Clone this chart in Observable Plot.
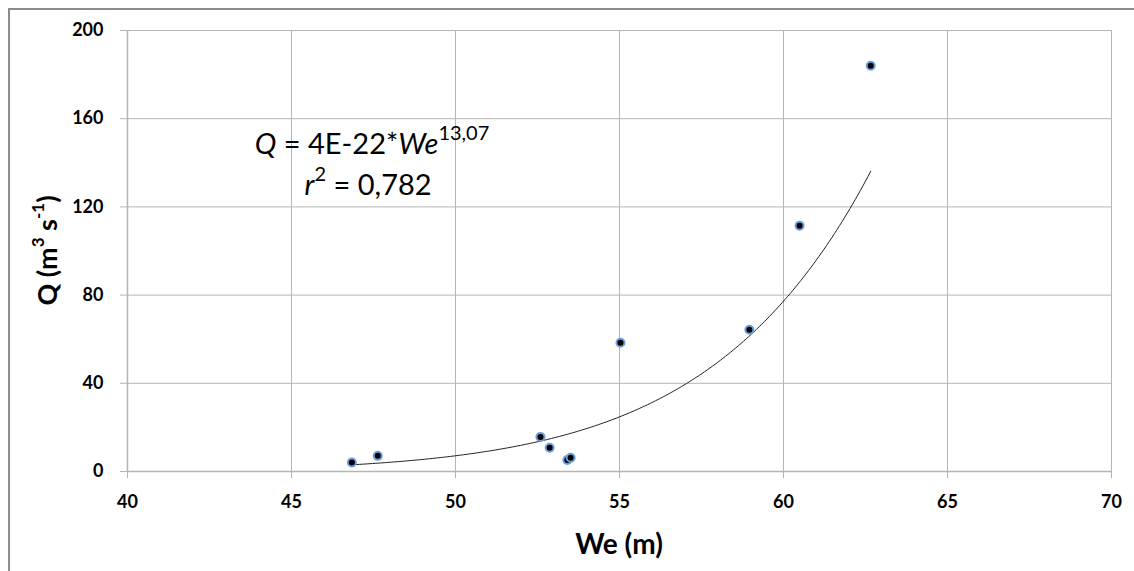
<!DOCTYPE html>
<html>
<head>
<meta charset="utf-8">
<script src="https://cdn.jsdelivr.net/npm/d3@7"></script>
<script src="https://cdn.jsdelivr.net/npm/@observablehq/plot@0.6"></script>
<style>
  html, body { margin: 0; padding: 0; background: #fff; }
  #wrap { position: relative; width: 1134px; height: 571px; overflow: hidden; }
  #frame { position: absolute; left: 8px; top: 8px; width: 1140px; height: 580px;
           border-left: 2px solid #8c8c8c; border-top: 2px solid #8c8c8c; box-sizing: border-box; }
  #chart { position: absolute; left: 0; top: 0; }
</style>
</head>
<body>
<div id="wrap"><div id="frame"></div><div id="chart"></div></div>
<script>
// Data
const we = [46.84, 47.63, 52.59, 52.87, 53.41, 53.51, 55.03, 58.96, 60.49, 62.66];
const q  = [4.1, 7.1, 15.7, 10.8, 5.2, 6.2, 58.4, 64.3, 111.5, 184.0];
const xTicks = [40, 45, 50, 55, 60, 65, 70];
const yTicks = [0, 40, 80, 120, 160, 200];
// Power trendline stated in the chart: Q = a * We^b
const trendA = 4.44e-22;
const trendB = 13.07;
const eqLine1 = {x: 47.47, y: 149.4};
const eqLine2 = {x: 47.35, y: 130.4};

const points = we.map((w, i) => ({we: w, q: q[i]}));
const xMin = d3.min(we), xMax = d3.max(we);
const trend = d3.range(0, 201).map(i => {
  const x = xMin + (xMax - xMin) * i / 200;
  return {we: x, q: trendA * Math.pow(x, trendB)};
});

const font = "Lato, 'Open Sans', sans-serif";
const plot = Plot.plot({
  width: 1134,
  height: 571,
  marginLeft: 127,
  marginRight: 23,
  marginTop: 30,
  marginBottom: 100,
  style: {fontFamily: font, fontSize: "18px", fontWeight: "bold", color: "black", background: "transparent"},
  x: {domain: [40, 70], ticks: xTicks},
  y: {domain: [0, 200], ticks: yTicks},
  marks: [
    Plot.gridX(xTicks, {stroke: "#b5b5b5", strokeOpacity: 1, strokeWidth: 1}),
    Plot.gridY(yTicks, {stroke: "#b5b5b5", strokeOpacity: 1, strokeWidth: 1}),
    Plot.ruleY([0], {stroke: "#b5b5b5", strokeWidth: 1.5}),
    Plot.ruleX([40], {stroke: "#b5b5b5", strokeWidth: 1.5}),
    Plot.axisX(xTicks, {tickSize: 7, tickPadding: 17, stroke: "#b5b5b5", fill: "black", label: null, fontSize: 18, fontWeight: "bold"}),
    Plot.axisY(yTicks, {tickSize: 7, tickPadding: 17, stroke: "#b5b5b5", fill: "black", label: null, fontSize: 18, fontWeight: "bold"}),
    Plot.line(trend, {x: "we", y: "q", stroke: "#222", strokeWidth: 1}),
    Plot.dot(points, {x: "we", y: "q", r: 4, fill: "black", stroke: "#6a9fdc", strokeWidth: 2})
  ]
});
document.getElementById("chart").appendChild(plot);

const svg = d3.select(plot);
const sx = plot.scale("x"), sy = plot.scale("y");

// X axis title
svg.append("text")
  .attr("x", (sx.apply(40) + sx.apply(70)) / 2)
  .attr("y", 543)
  .attr("text-anchor", "middle").attr("dominant-baseline", "central")
  .attr("font-family", font).attr("font-weight", "bold").attr("font-size", 28)
  .attr("fill", "black")
  .text("We (m)");

// Y axis title with superscripts
const yl = svg.append("text")
  .attr("transform", `translate(46,${(sy.apply(0) + sy.apply(200)) / 2}) rotate(-90)`)
  .attr("text-anchor", "middle").attr("dominant-baseline", "central")
  .attr("font-family", font).attr("font-weight", "bold").attr("font-size", 27)
  .attr("fill", "black");
yl.append("tspan").text("Q (m");
yl.append("tspan").attr("font-size", 17).attr("dy", -9).text("3");
yl.append("tspan").attr("dy", 9).text(" s");
yl.append("tspan").attr("font-size", 17).attr("dy", -9).text("-1");
yl.append("tspan").attr("dy", 9).text(")");

// Equation
const e1 = svg.append("text")
  .attr("x", sx.apply(eqLine1.x)).attr("y", sy.apply(eqLine1.y))
  .attr("text-anchor", "middle").attr("dominant-baseline", "central")
  .attr("font-family", font).attr("font-weight", "normal").attr("font-size", 29).attr("fill", "black");
e1.append("tspan").attr("font-style", "italic").text("Q");
e1.append("tspan").text(" = 4E-22*");
e1.append("tspan").attr("font-style", "italic").text("We");
e1.append("tspan").attr("font-size", 20).attr("dy", -10).text("13,07");

const e2 = svg.append("text")
  .attr("x", sx.apply(eqLine2.x)).attr("y", sy.apply(eqLine2.y))
  .attr("text-anchor", "middle").attr("dominant-baseline", "central")
  .attr("font-family", font).attr("font-weight", "normal").attr("font-size", 29).attr("fill", "black");
e2.append("tspan").attr("font-style", "italic").text("r");
e2.append("tspan").attr("font-size", 20).attr("dy", -10).text("2");
e2.append("tspan").attr("dy", 10).text(" = 0,782");
</script>
</body>
</html>
